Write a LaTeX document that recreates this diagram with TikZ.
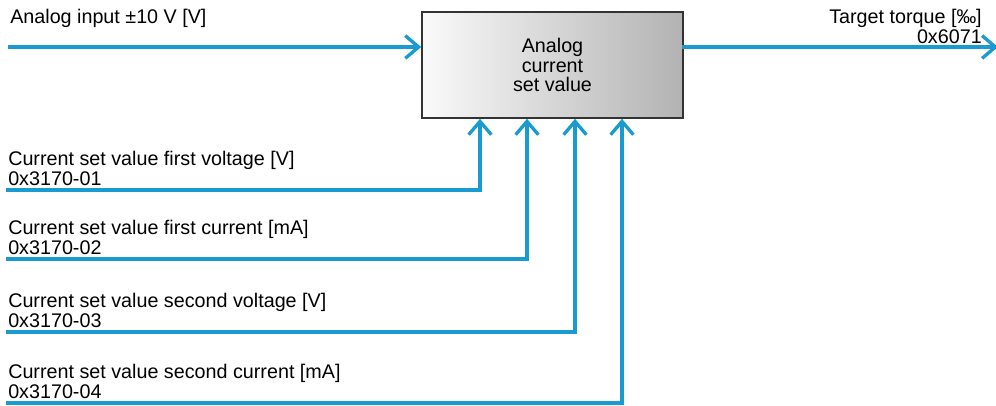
\documentclass[tikz,border=0pt]{standalone}
\usepackage{fontspec}
\setmainfont{Liberation Sans}
\usetikzlibrary{arrows.meta, positioning, calc}
\definecolor{sigc}{HTML}{1A9BD0}
\definecolor{boxline}{HTML}{333333}
\tikzset{
  fblock/.style={draw=boxline, line width=1.2pt, left color=gray!4, middle color=gray!14,
                 right color=gray!60, minimum width=261*0.75pt, minimum height=106*0.75pt,
                 align=center, font=\fontsize{14.8}{14.6}\selectfont, inner sep=0pt},
  wire/.style={draw=sigc, line width=2.5pt, line cap=rect},
  arr/.style={wire, -{Straight Barb[length=10pt, width=17pt, line cap=butt]}},
  lbl/.style={font=\fontsize{14.8}{15}\selectfont, inner sep=0pt, align=left},
}

\begin{document}
\begin{tikzpicture}[x=0.75pt, y=-0.75pt]
\useasboundingbox (0,0) rectangle (996,406);

% ---------------- block ----------------
\node[fblock] (block) at (552.5,65) {Analog\\current\\set value};

% ---------------- input and output ----------------
\coordinate (ain) at (10,47);
\coordinate (tqout) at (998,47);
\node[lbl, anchor=base west] (ainlbl) at (10,24) {Analog input ±10 V [V]};
\node[lbl, anchor=south east, align=right] (tqlbl) at (982,44) {Target torque [‰]\\0x6071};
\draw[arr] (ain) -- (ain -| block.west);
\draw[arr] (tqout -| block.east) -- (tqout);

% ---------------- parameters ----------------
\foreach \i/\dx/\y/\txt in {1/-72.5/190/first voltage [V],
                            2/-25.5/259/first current [mA],
                            3/22.5/332/second voltage [V],
                            4/69.5/403/second current [mA]} {
  \coordinate (src\i) at (8,\y);
  \coordinate (dst\i) at ($(block.south)+(\dx,0)$);
  \node[lbl, anchor=south west] (par\i) at (8,\y-4) {Current set value \txt\\0x3170-0\i};
  \draw[arr] (src\i) -| (dst\i);
}

\end{tikzpicture}
\end{document}
